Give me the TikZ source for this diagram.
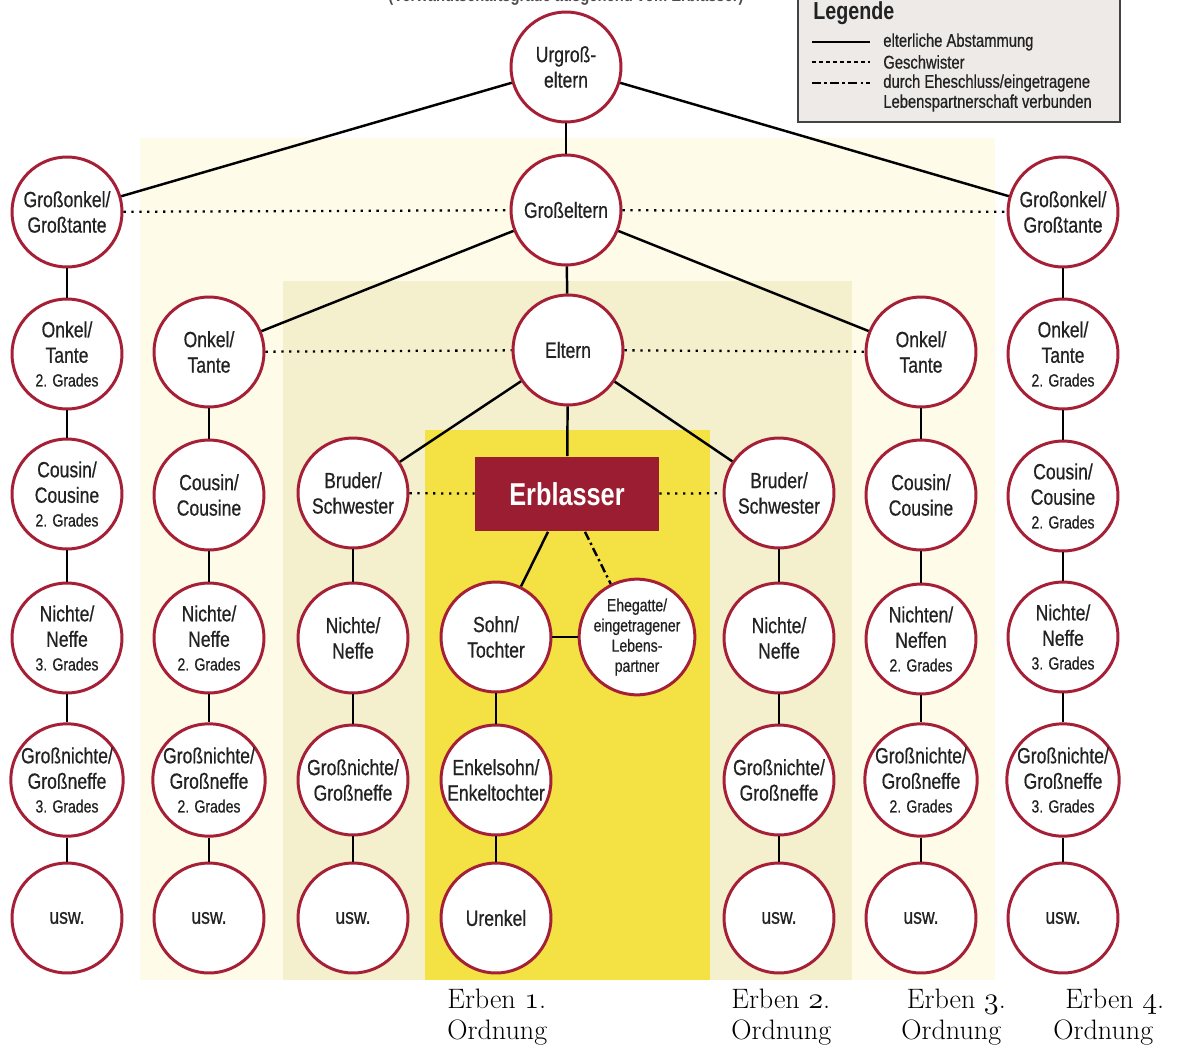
\documentclass[tikz,border=0pt]{standalone}
\usepackage{fontspec}
\setsansfont{Liberation Sans}[FakeStretch=0.8,UprightFeatures={FakeBold=0.6}]
\usetikzlibrary{positioning}

\definecolor{rim}{HTML}{A51F37}
\definecolor{erbred}{HTML}{9A1D32}
\definecolor{ord1}{HTML}{F4E244}
\definecolor{ord2}{HTML}{F4EFCC}
\definecolor{ord3}{HTML}{FEFBE8}
\definecolor{legfill}{HTML}{EDEAE8}
\definecolor{ink}{HTML}{222222}

\newcommand{\grd}[1]{\\[-1pt]{\fontsize{10}{11}\selectfont #1. Grades}}

\begin{document}
\begin{tikzpicture}[x=0.02cm,y=-0.02cm,
  person/.style={circle,draw=rim,line width=1.7pt,fill=white,minimum size=2.2cm,
    inner sep=0pt,align=center,text=ink,font=\sffamily\fontsize{12.5}{14.5}\selectfont},
  rel/.style={line width=1.4pt},
  sib/.style={line width=1.3pt,dash pattern=on 1.3pt off 3.2pt},
  marr/.style={line width=1.4pt,dash pattern=on 5pt off 2pt on 1.3pt off 2pt},
  ordn/.style={anchor=north west,inner sep=0pt,align=left,text=black,
    font=\fontsize{16}{17.5}\selectfont}]

  % Frame and the four orders
  \useasboundingbox[fill=white] (0,0) rectangle (1180,1048);
  \fill[ord3] (140,138) rectangle (995,980);
  \fill[ord2] (283,281) rectangle (852,980);
  \fill[ord1] (425,430) rectangle (710,980);

  % Title (cut at the top edge)
  \node[anchor=base,text=ink!80,font=\sffamily\bfseries\fontsize{10.5}{12}\selectfont]
    (title) at (566,2) {(Verwandtschaftsgrade ausgehend vom Erblasser)};

  % Legend
  \draw[fill=legfill,draw=ink!85,line width=1.2pt] (798,-10) rectangle (1120,122);
  \node[anchor=west,inner sep=0pt,text=ink,font=\sffamily\bfseries\fontsize{14}{16}\selectfont]
    (legend) at (813,13) {Legende};
  \draw[rel] (812,42) -- (870,42);
  \draw[line width=1.2pt,dash pattern=on 2pt off 2pt] (812,62) -- (870,62);
  \draw[marr] (812,83) -- (870,83);
  \begin{scope}[every node/.style={anchor=west,inner sep=0pt,text=ink,
      font=\sffamily\fontsize{10.5}{12}\selectfont}]
    \node (l1) at (883,42) {elterliche Abstammung};
    \node (l2) at (883,62) {Geschwister};
    \node (l3) at (883,83) {durch Eheschluss/eingetragene};
    \node (l4) at (883,103) {Lebenspartnerschaft verbunden};
  \end{scope}

  % Persons
  \node[person] (urgr) at (566,67)  {Urgroß-\\eltern};
  \node[person] (gr)   at (566,210) {Großeltern};
  \node[person] (goL)  at (67,212)  {Großonkel/\\Großtante};
  \node[person] (goR)  at (1063,212) {Großonkel/\\Großtante};

  \node[person] (okL) at (67,354)   {Onkel/\\Tante\grd{2}};
  \node[person] (ok2) at (209,352)  {Onkel/\\Tante};
  \node[person] (el)  at (568,350)  {Eltern};
  \node[person] (ok7) at (921,352)  {Onkel/\\Tante};
  \node[person] (okR) at (1063,354) {Onkel/\\Tante\grd{2}};

  \node[person] (cuL) at (67,494)   {Cousin/\\Cousine\grd{2}};
  \node[person] (cu2) at (209,495)  {Cousin/\\Cousine};
  \node[person] (brL) at (353,493)  {Bruder/\\Schwester};
  \node[rectangle,fill=erbred,minimum width=3.68cm,minimum height=1.5cm,text=white,
    font=\sffamily\bfseries\fontsize{18}{20}\selectfont] (erbl) at (567,494) {Erblasser};
  \node[person] (brR) at (779,493)  {Bruder/\\Schwester};
  \node[person] (cu7) at (921,495)  {Cousin/\\Cousine};
  \node[person] (cuR) at (1063,496) {Cousin/\\Cousine\grd{2}};

  \node[person] (niL)  at (67,638)   {Nichte/\\Neffe\grd{3}};
  \node[person] (ni2)  at (209,638)  {Nichte/\\Neffe\grd{2}};
  \node[person] (ni3)  at (353,638)  {Nichte/\\Neffe};
  \node[person] (sohn) at (496,637)  {Sohn/\\Tochter};
  \node[person,font=\sffamily\fontsize{10}{11.5}\selectfont] (ehe) at (637,637)
    {Ehegatte/\\eingetragener\\Lebens-\\partner};
  \node[person] (ni6)  at (779,638)  {Nichte/\\Neffe};
  \node[person] (ni7)  at (921,639)  {Nichten/\\Neffen\grd{2}};
  \node[person] (niR)  at (1063,637) {Nichte/\\Neffe\grd{3}};

  \node[person] (gnL) at (67,780)   {Großnichte/\\Großneffe\grd{3}};
  \node[person] (gn2) at (209,780)  {Großnichte/\\Großneffe\grd{2}};
  \node[person] (gn3) at (353,780)  {Großnichte/\\Großneffe};
  \node[person] (enk) at (496,780)  {Enkelsohn/\\Enkeltochter};
  \node[person] (gn6) at (779,780)  {Großnichte/\\Großneffe};
  \node[person] (gn7) at (921,780)  {Großnichte/\\Großneffe\grd{2}};
  \node[person] (gnR) at (1063,780) {Großnichte/\\Großneffe\grd{3}};

  \foreach \n/\x in {uL/67,u2/209,u3/353,u6/779,u7/921,uR/1063}
    \node[person] (\n) at (\x,918) {usw.};
  \node[person] (uren) at (496,918) {Urenkel};

  % Descent
  \foreach \a/\b in {urgr/goL,urgr/goR,urgr/gr,gr/ok2,gr/ok7,gr/el,el/brL,el/brR,el/erbl,
      goL/okL,okL/cuL,cuL/niL,niL/gnL,gnL/uL,
      ok2/cu2,cu2/ni2,ni2/gn2,gn2/u2,
      brL/ni3,ni3/gn3,gn3/u3,
      sohn/enk,enk/uren,sohn/ehe,
      brR/ni6,ni6/gn6,gn6/u6,
      ok7/cu7,cu7/ni7,ni7/gn7,gn7/u7,
      goR/okR,okR/cuR,cuR/niR,niR/gnR,gnR/uR}
    \draw[rel] (\a) -- (\b);
  \draw[rel] ([xshift=-0.38cm]erbl.south) -- (sohn);
  \draw[marr] ([xshift=0.36cm]erbl.south) -- (ehe);

  % Siblings
  \draw[sib] (goL) -- (gr) -- (goR);
  \draw[sib] (ok2) -- (el) -- (ok7);
  \draw[sib] (brL) -- (erbl) -- (brR);

  % Orders
  \node[ordn] (o1) at (447,989) {Erben \legacyoldstylenums{1}.\\Ordnung};
  \node[ordn] (o2) at (731,989) {Erben \legacyoldstylenums{2}.\\Ordnung};
  \node[ordn] (o3) at (901,989) {\hspace*{8\pgflinewidth}Erben \legacyoldstylenums{3}.\\Ordnung};
  \node[ordn] (o4) at (1053,989) {\hspace*{17\pgflinewidth}Erben \legacyoldstylenums{4}.\\Ordnung};

\end{tikzpicture}
\end{document}
